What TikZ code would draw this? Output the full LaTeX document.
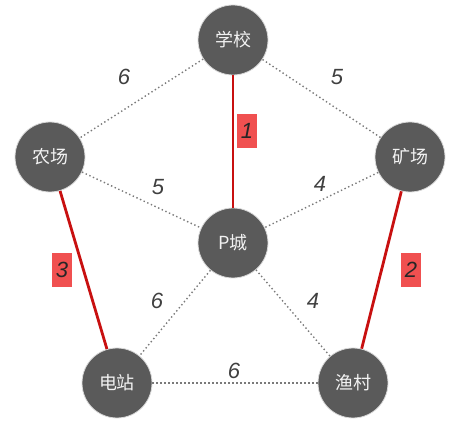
\documentclass[tikz,border=0pt]{standalone}
\usepackage{fontspec}
\setmainfont{Liberation Sans}
\newfontfamily\cjk{Noto Sans CJK SC}
\definecolor{nodegray}{HTML}{5A5A5A}
\definecolor{edgered}{HTML}{C81010}
\definecolor{boxred}{HTML}{F05050}
\definecolor{dotgray}{HTML}{7A7A7A}
\begin{document}
\begin{tikzpicture}[x=1pt,y=-1pt,
  city/.style={circle,fill=nodegray,draw=white!85!black,line width=0.8pt,minimum size=70pt,inner sep=0pt,text=white!95!black,font=\cjk\fontsize{18}{18}\selectfont},
  dotedge/.style={dotgray,line width=1.4pt,dash pattern=on 1.4pt off 2.6pt},
  rededge/.style={edgered,line width=2.8pt},
  wlabel/.style={font=\itshape\fontsize{22}{22}\selectfont,text=black!75,inner sep=1pt},
  rlabel/.style={fill=boxred,font=\itshape\fontsize{22}{22}\selectfont,text=black!85,minimum width=20pt,minimum height=34pt,inner sep=0pt}
]
\useasboundingbox (0,0) rectangle (456,433);
\node[city] (school) at (233,40) {学校};
\node[city] (farm) at (50,157) {农场};
\node[city] (mine) at (410,157) {矿场};
\node[city] (pc) at (233,243) {P城};
\node[city] (power) at (117,383) {电站};
\node[city] (fish) at (353,383) {渔村};
\draw[dotedge] (school) -- (farm);
\draw[dotedge] (school) -- (mine);
\draw[dotedge] (farm) -- (pc);
\draw[dotedge] (mine) -- (pc);
\draw[dotedge] (pc) -- (power);
\draw[dotedge] (pc) -- (fish);
\draw[dotedge] (power) -- (fish);
\draw[rededge] (school) -- (pc);
\draw[rededge] (farm) -- (power);
\draw[rededge] (mine) -- (fish);
\node[wlabel] (l1) at (124,77) {6};
\node[wlabel] (l2) at (337,77) {5};
\node[wlabel] (l3) at (158,187) {5};
\node[wlabel] (l4) at (320,184) {4};
\node[wlabel] (l5) at (157,301) {6};
\node[wlabel] (l6) at (313,301) {4};
\node[wlabel] (l7) at (234,371) {6};
\node[rlabel] (r1) at (247,131) {1};
\node[rlabel] (r3) at (62,270) {3};
\node[rlabel] (r2) at (411,270) {2};
\end{tikzpicture}
\end{document}
